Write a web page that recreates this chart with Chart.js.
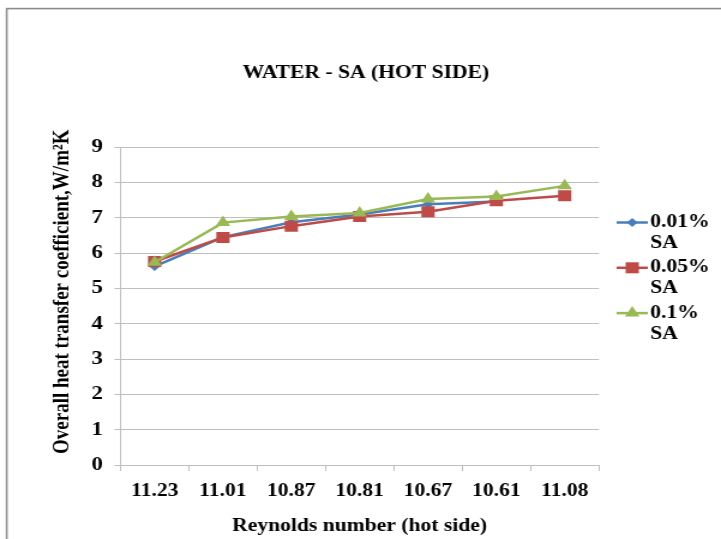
<!DOCTYPE html>
<html>
<head>
<meta charset="utf-8">
<title>WATER - SA (HOT SIDE)</title>
<script src="https://cdn.jsdelivr.net/npm/chart.js@4/dist/chart.umd.min.js"></script>
<style>
  html, body { margin: 0; padding: 0; background: #ffffff; overflow: hidden; }
  #chart { display: block; width: 721px; height: 539px; }
</style>
</head>
<body>
<!-- drawn at 601 px wide and shown at 721 px, giving the wide lettering of the sheet -->
<canvas id="chart" width="601" height="539" style="width:721px;height:539px"></canvas>
<script>
// Reynolds number (hot side) for each run
const reynolds = ['11.23', '11.01', '10.87', '10.81', '10.67', '10.61', '11.08'];

// Overall heat transfer coefficient, W/m²K
const sa001 = [5.62, 6.45, 6.87, 7.09, 7.38, 7.46, null];
const sa005 = [5.76, 6.44, 6.76, 7.03, 7.17, 7.48, 7.62];
const sa01  = [5.74, 6.86, 7.03, 7.13, 7.53, 7.60, 7.90];

const seriesNames = ['0.01% SA', '0.05% SA', '0.1% SA'];
const yTicks = [0, 1, 2, 3, 4, 5, 6, 7, 8, 9];

const FONT = '"Liberation Serif", "Times New Roman", Times, serif';
const GRID = '#BFBFBF';

const series = [
  { name: seriesNames[0], data: sa001, color: '#4A7EBB', style: 'rectRot', radius: 4.5, order: 2 },
  { name: seriesNames[1], data: sa005, color: '#BE4B48', style: 'rect', radius: 7.8, order: 1 },
  { name: seriesNames[2], data: sa01,  color: '#98B954', style: 'triangle', radius: 7, order: 0 }
];

// marker shapes used in the side legend
function marker(ctx, style, r, x, y) {
  ctx.beginPath();
  if (style === 'rect') {
    const h = r * Math.SQRT1_2;
    ctx.rect(x - h, y - h, 2 * h, 2 * h);
  } else if (style === 'rectRot') {
    ctx.moveTo(x, y - r); ctx.lineTo(x + r, y); ctx.lineTo(x, y + r); ctx.lineTo(x - r, y);
    ctx.closePath();
  } else {
    ctx.moveTo(x, y - r);
    ctx.lineTo(x + r * Math.sin(Math.PI / 3), y + r * 0.5);
    ctx.lineTo(x - r * Math.sin(Math.PI / 3), y + r * 0.5);
    ctx.closePath();
  }
  ctx.fill();
}

const frameAndLegend = {
  id: 'frameAndLegend',
  beforeDraw(chart) {
    const ctx = chart.ctx;
    ctx.save();
    ctx.fillStyle = '#ffffff';
    ctx.fillRect(0, 0, chart.width, chart.height);
    ctx.strokeStyle = '#8C8C8C';
    ctx.lineWidth = 1.6;
    ctx.strokeRect(5.6, 8.6, chart.width + 20, chart.height + 20);
    ctx.restore();
  },
  afterDraw(chart) {
    const ctx = chart.ctx;
    ctx.save();
    ctx.font = 'bold 18px ' + FONT;
    ctx.textBaseline = 'middle';
    ctx.textAlign = 'left';
    const x0 = 514, x1 = 540, tx = 542;
    series.forEach((s, i) => {
      const y = 222.5 + i * 45.3;
      ctx.strokeStyle = s.color;
      ctx.lineWidth = 2.5;
      ctx.beginPath();
      ctx.moveTo(x0, y);
      ctx.lineTo(x1, y);
      ctx.stroke();
      ctx.fillStyle = s.color;
      marker(ctx, s.style, s.radius, (x0 + x1) / 2, y);
      ctx.fillStyle = '#000000';
      const parts = s.name.split(' ');
      parts.forEach((p, j) => ctx.fillText(p, tx, y + j * 21));
    });
    ctx.restore();
  }
};

new Chart(document.getElementById('chart'), {
  type: 'line',
  data: {
    labels: reynolds,
    datasets: series.map(s => ({
      label: s.name,
      data: s.data,
      order: s.order,
      borderColor: s.color,
      backgroundColor: s.color,
      borderWidth: 2.5,
      pointStyle: s.style,
      pointRadius: s.radius,
      pointBackgroundColor: s.color,
      pointBorderColor: s.color,
      pointBorderWidth: 0,
      tension: 0,
      fill: false,
      yAxisID: 'y'
    }))
  },
  options: {
    responsive: false,
    animation: false,
    devicePixelRatio: 1,
    layout: { padding: { left: 9, right: 0, top: 8, bottom: 0 } },
    plugins: {
      legend: { display: false },
      tooltip: { enabled: false },
      title: {
        display: true,
        text: 'WATER - SA (HOT SIDE)',
        color: '#000000',
        font: { family: FONT, size: 18, weight: 'bold' },
        padding: { top: 54.2, bottom: 63.2 }
      }
    },
    scales: {
      x: {
        type: 'category',
        offset: true,
        grid: { display: true, drawOnChartArea: false, drawTicks: true, tickLength: 6, color: GRID, offset: true },
        border: { display: true, color: GRID, width: 1 },
        ticks: {
          color: '#000000',
          font: { family: FONT, size: 18, weight: 'bold' },
          padding: 9.2,
          maxRotation: 0,
          autoSkip: false
        },
        title: {
          display: true,
          text: 'Reynolds number (hot side)',
          color: '#000000',
          font: { family: FONT, size: 18, weight: 'bold' },
          padding: { top: 0, bottom: 2.2 }
        },
        afterFit(scale) { scale.height = 74; }
      },
      y: {
        position: 'left',
        min: 0,
        max: 9,
        afterBuildTicks(scale) { scale.ticks = yTicks.map(v => ({ value: v })); },
        grid: { color: GRID, lineWidth: 1, drawTicks: true, tickLength: 5 },
        border: { display: true, color: GRID, width: 1 },
        ticks: {
          color: '#000000',
          font: { family: FONT, size: 19, weight: 'bold' },
          padding: 9.6
        },
        title: {
          display: true,
          text: '      Overall heat transfer coefficient,W/m²K',
          color: '#000000',
          font: { family: FONT, size: 19, weight: 'bold' },
          padding: { top: 32.1, bottom: 0 }
        },
        afterFit(scale) { scale.width = 91.4; }
      },
      side: {
        position: 'right',
        display: true,
        grid: { display: false, drawTicks: false },
        border: { display: false },
        ticks: { display: false },
        afterFit(scale) { scale.width = 101.8; }
      }
    }
  },
  plugins: [frameAndLegend]
});
</script>
</body>
</html>
